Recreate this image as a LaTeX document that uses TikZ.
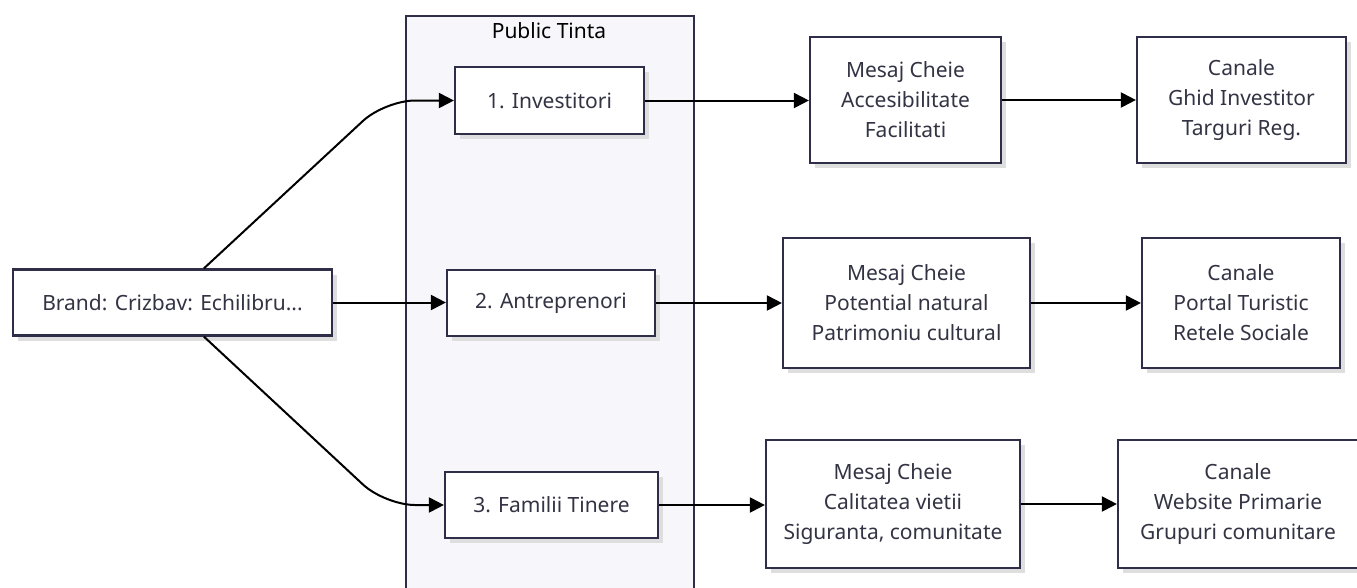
\documentclass[tikz,border=0pt]{standalone}
\usepackage{fontspec}
\setmainfont{Noto Sans}
\usetikzlibrary{arrows.meta,shadows,calc}
\definecolor{navy}{HTML}{2E2E48}
\definecolor{clfill}{HTML}{F7F7FB}
\definecolor{txt}{HTML}{333344}
\tikzset{
  box/.style={draw=navy, line width=2.2pt, fill=white, align=center, text=txt, inner sep=0pt,
    font=\fontsize{21}{30}\selectfont,
    general shadow={fill=black!13, shadow xshift=5pt, shadow yshift=-5pt}},
  arr/.style={line width=2pt, -{Triangle[length=15pt,width=15pt]}},
  clusterbox/.style={draw=navy, line width=1.5pt, fill=clfill, inner sep=0pt},
}
\begin{document}
\begin{tikzpicture}[x=1pt,y=1pt]
\useasboundingbox (0,0) rectangle (1357,-587);
\clip (0,0) rectangle (1357,-587);
\fill[white] (0,0) rectangle (1357,-587);
\node[clusterbox, minimum width=288pt, minimum height=600pt, anchor=north west] (pt) at (405,-15) {};
\node[font=\fontsize{21}{24}\selectfont, text=black] (ptt) at (549,-31) {Public Tinta};

\node[box, minimum width=319pt, minimum height=66pt] (brand) at (172.5,-302.5) {Brand: Crizbav: Echilibru...};
\node[box, minimum width=189pt, minimum height=67pt] (inv) at (549.5,-100.5) {1. Investitori};
\node[box, minimum width=208pt, minimum height=66pt] (ant) at (551,-303) {2. Antreprenori};
\node[box, minimum width=213pt, minimum height=66pt] (fam) at (551.5,-505) {3. Familii Tinere};

\node[box, minimum width=191pt, minimum height=126pt] (m1) at (905.5,-100) {Mesaj Cheie\\Accesibilitate\\Facilitati};
\node[box, minimum width=209pt, minimum height=126pt] (c1) at (1241.5,-100) {Canale\\Ghid Investitor\\Targuri Reg.};
\node[box, minimum width=247pt, minimum height=130pt] (m2) at (906.5,-303) {Mesaj Cheie\\Potential natural\\Patrimoniu cultural};
\node[box, minimum width=198pt, minimum height=130pt] (c2) at (1241,-303) {Canale\\Portal Turistic\\Retele Sociale};
\node[box, minimum width=254pt, minimum height=128pt] (m3) at (893,-504) {Mesaj Cheie\\Calitatea vietii\\Siguranta, comunitate};
\node[box, minimum width=240pt, minimum height=128pt] (c3) at (1238,-504) {Canale\\Website Primarie\\Grupuri comunitare};

\coordinate (k1) at (385,-100.5);
\coordinate (k3) at (385,-505);
\draw[arr, rounded corners=30pt] ($(brand.north west)+(192,0)$) -- (k1) -- (inv.west);
\draw[arr] (brand.east) -- (brand.east -| ant.west);
\draw[arr, rounded corners=30pt] ($(brand.south west)+(192,0)$) -- (k3) -- (fam.west);

\draw[arr] (inv.east) -- (inv.east -| m1.west);
\draw[arr] (m1.east) -- (m1.east -| c1.west);
\draw[arr] (ant.east) -- (ant.east -| m2.west);
\draw[arr] (m2.east) -- (m2.east -| c2.west);
\draw[arr] (fam.east) -- (fam.east -| m3.west);
\draw[arr] (m3.east) -- (m3.east -| c3.west);
\end{tikzpicture}
\end{document}
